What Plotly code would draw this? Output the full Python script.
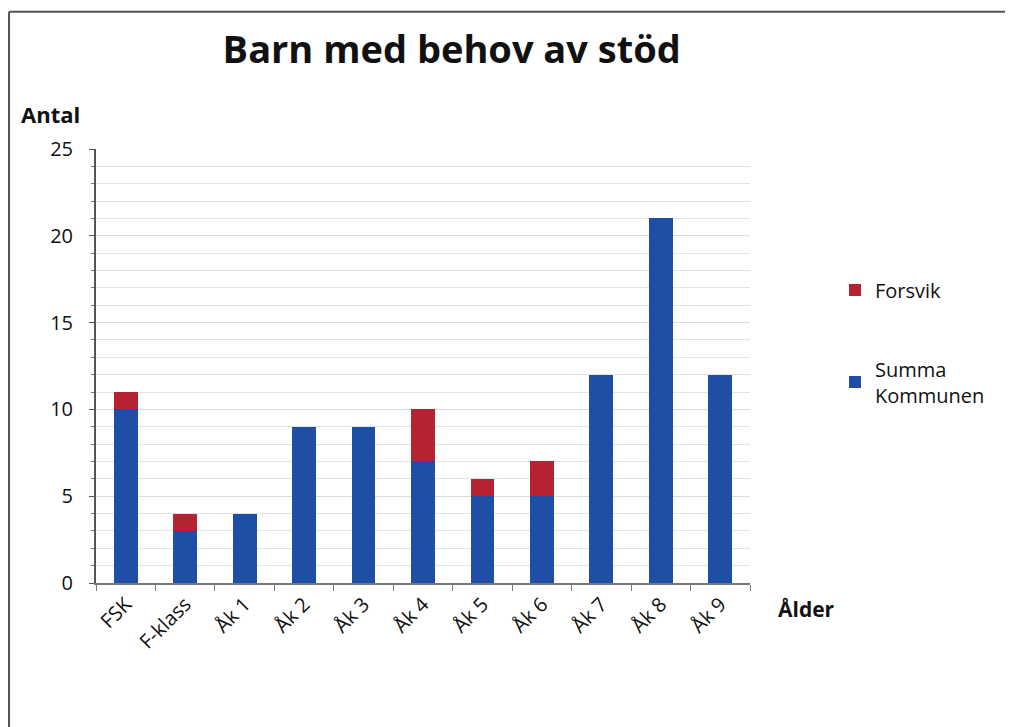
import plotly.graph_objects as go

categories = ["FSK", "F-klass", "Åk 1", "Åk 2", "Åk 3", "Åk 4", "Åk 5", "Åk 6", "Åk 7", "Åk 8", "Åk 9"]
summa_kommunen = [10, 3, 4, 9, 9, 7, 5, 5, 12, 21, 12]
forsvik = [1, 1, 0, 0, 0, 3, 1, 2, 0, 0, 0]
y_ticks = [0, 5, 10, 15, 20, 25]

FONT = "Open Sans"

fig = go.Figure()
fig.add_trace(go.Bar(x=categories, y=summa_kommunen, name="Summa<br>Kommunen",
                     marker=dict(color="#1f4ea6", line=dict(width=0)),
                     legendgroup="a", legendrank=2))
fig.add_trace(go.Bar(x=categories, y=forsvik, name="Forsvik",
                     marker=dict(color="#b52230", line=dict(width=0)),
                     legendgroup="b", legendrank=1))

fig.update_layout(
    width=1013, height=727,
    barmode="stack", bargap=0.6,
    plot_bgcolor="white", paper_bgcolor="white",
    font=dict(family=FONT, color="#111", size=19),
    margin=dict(l=88, r=271, t=141, b=152),
    title=dict(text="<b>Barn med behov av stöd</b>", x=0.438, xanchor="center",
               y=0.942, yanchor="middle", font=dict(size=38, family=FONT, color="#111")),
    showlegend=True,
    legend=dict(x=1.13, y=0.72, xanchor="left", yanchor="top",
                traceorder="grouped", tracegroupgap=50,
                font=dict(size=20, family=FONT), itemwidth=30, bgcolor="rgba(0,0,0,0)"),
    xaxis=dict(showline=True, linecolor="#777", linewidth=1.5, ticks="outside",
               tickson="boundaries", ticklen=6, tickcolor="#777", tickangle=-45,
               tickfont=dict(size=20, family=FONT), showgrid=False),
    yaxis=dict(range=[0, 25], tickvals=y_ticks, showline=True, linecolor="#555",
               linewidth=2, ticks="outside", ticklen=5, tickcolor="#555",
               ticklabelstandoff=12,
               tickfont=dict(size=20, family=FONT), showgrid=True, gridcolor="#dcdcdc",
               gridwidth=1, zeroline=False,
               minor=dict(dtick=1, showgrid=True, gridcolor="#e4e4e4", gridwidth=1,
                          ticks="outside", ticklen=3, tickcolor="#777")),
    annotations=[
        dict(text="<b>Antal</b>", xref="paper", yref="paper", x=-0.117, y=1.08,
             xanchor="left", yanchor="middle", showarrow=False,
             font=dict(size=22, family=FONT, color="#111")),
        dict(text="<b>Ålder</b>", xref="paper", yref="paper", x=1.04, y=-0.06,
             xanchor="left", yanchor="middle", showarrow=False,
             font=dict(size=21, family=FONT, color="#111")),
    ],
    shapes=[
        dict(type="line", xref="paper", yref="paper", x0=-0.133, x1=1.6, y0=1.316, y1=1.316,
             line=dict(color="#555", width=2)),
        dict(type="line", xref="paper", yref="paper", x0=-0.133, x1=-0.133, y0=1.316, y1=-0.4,
             line=dict(color="#555", width=2)),
    ],
)

fig.write_html("out.html")
